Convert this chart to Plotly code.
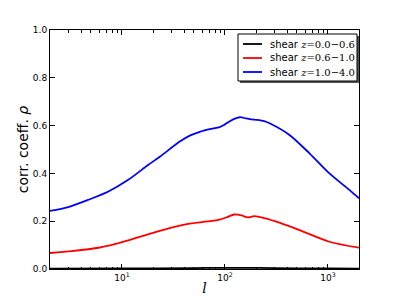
import plotly.graph_objects as go

blue_l = [2, 3.0, 4.69, 7.3, 11.4, 17.9, 23.3, 36.4, 45.5, 56.9, 71, 88.9, 99, 120, 139, 160, 180, 203, 240, 271, 423, 661, 1032, 1612, 2000]
blue_v = [0.243, 0.259, 0.289, 0.323, 0.372, 0.435, 0.47, 0.533, 0.558, 0.574, 0.585, 0.594, 0.604, 0.626, 0.635, 0.630, 0.626, 0.624, 0.619, 0.61, 0.561, 0.484, 0.40, 0.331, 0.296]

red_l = [2, 3.27, 6.1, 8.5, 12, 16.7, 29, 45.5, 71, 89, 105, 123, 145, 166, 193, 240, 337, 529, 1032, 2000]
red_v = [0.067, 0.075, 0.09, 0.104, 0.122, 0.141, 0.171, 0.19, 0.2, 0.207, 0.217, 0.228, 0.224, 0.216, 0.221, 0.213, 0.194, 0.163, 0.114, 0.089]

black_l = [2, 10, 50, 100, 150, 300, 1000, 2000]
black_v = [0.001, 0.002, 0.004, 0.005, 0.005, 0.004, 0.002, 0.001]

labels = ["0.0\u22120.6", "0.6\u22121.0", "1.0\u22124.0"]
colors = ["black", "red", "blue"]

xticks = [10, 100, 1000]
xticktext = ["10<sup>1</sup>", "10<sup>2</sup>", "10<sup>3</sup>"]
minor_vals = [m * d for d in (1, 10, 100) for m in range(2, 10)] + [2000]

series = [(black_l, black_v), (red_l, red_v), (blue_l, blue_v)]

fig = go.Figure()
for (lv, vv), lab, c in zip(series, labels, colors):
    fig.add_trace(go.Scatter(x=lv, y=vv, mode="lines", name="shear z=" + lab, showlegend=False,
                             line=dict(color=c, width=1.8, shape="spline", smoothing=0.8)))

# custom legend box (paper coordinates of the plot area)
def px(x):
    return (x - 50) / 309.0

def py(y):
    return (269 - y) / 239.0

shapes = [
    dict(type="rect", xref="paper", yref="paper", x0=px(240), x1=px(359), y0=py(36), y1=py(83),
         fillcolor="#555555", line=dict(width=0), layer="above"),
    dict(type="rect", xref="paper", yref="paper", x0=px(238), x1=px(357), y0=py(34), y1=py(81),
         fillcolor="white", line=dict(color="black", width=1), layer="above"),
]
annotations = []
row_y = [44, 58, 72]
for ry, lab, c in zip(row_y, labels, colors):
    shapes.append(dict(type="line", xref="paper", yref="paper", x0=px(243), x1=px(262), y0=py(ry), y1=py(ry),
                       line=dict(color=c, width=1.8), layer="above"))
    annotations.append(dict(xref="paper", yref="paper", x=px(268), y=py(ry), xanchor="left", yanchor="middle",
                            showarrow=False,
                            text="shear <span style='font-family:DejaVu Serif'><i>z</i>=" + lab + "</span>",
                            font=dict(size=10, family="DejaVu Sans", color="black")))

fig.update_layout(
    width=399, height=299,
    margin=dict(l=50, r=40, t=30, b=30),
    paper_bgcolor="white", plot_bgcolor="white",
    font=dict(family="DejaVu Sans", size=9, color="black"),
    showlegend=False,
    shapes=shapes, annotations=annotations,
)
fig.update_xaxes(type="log", range=[0.30103, 3.30103], automargin=False,
                 tickvals=xticks, ticktext=xticktext,
                 ticks="inside", ticklen=5, tickcolor="black",
                 showline=True, linecolor="black", linewidth=1, mirror="ticks",
                 showgrid=False, zeroline=False,
                 minor=dict(ticks="inside", ticklen=2.5, tickcolor="black", tickvals=minor_vals, showgrid=False),
                 title=dict(text="<i>l</i>", font=dict(family="DejaVu Serif", size=14), standoff=1))
fig.update_yaxes(range=[0, 1], tickvals=[0, 0.2, 0.4, 0.6, 0.8, 1.0], automargin=False,
                 ticktext=["0.0", "0.2", "0.4", "0.6", "0.8", "1.0"],
                 ticks="inside", ticklen=5, tickcolor="black",
                 showline=True, linecolor="black", linewidth=1, mirror="ticks",
                 showgrid=False, zeroline=False,
                 title=dict(text="corr. coeff. <i>\u03c1</i>", font=dict(family="DejaVu Sans", size=14), standoff=0))

fig.write_html("out.html", config={"displayModeBar": False},
               post_script="document.body.style.margin='0';document.body.style.padding='0';")
